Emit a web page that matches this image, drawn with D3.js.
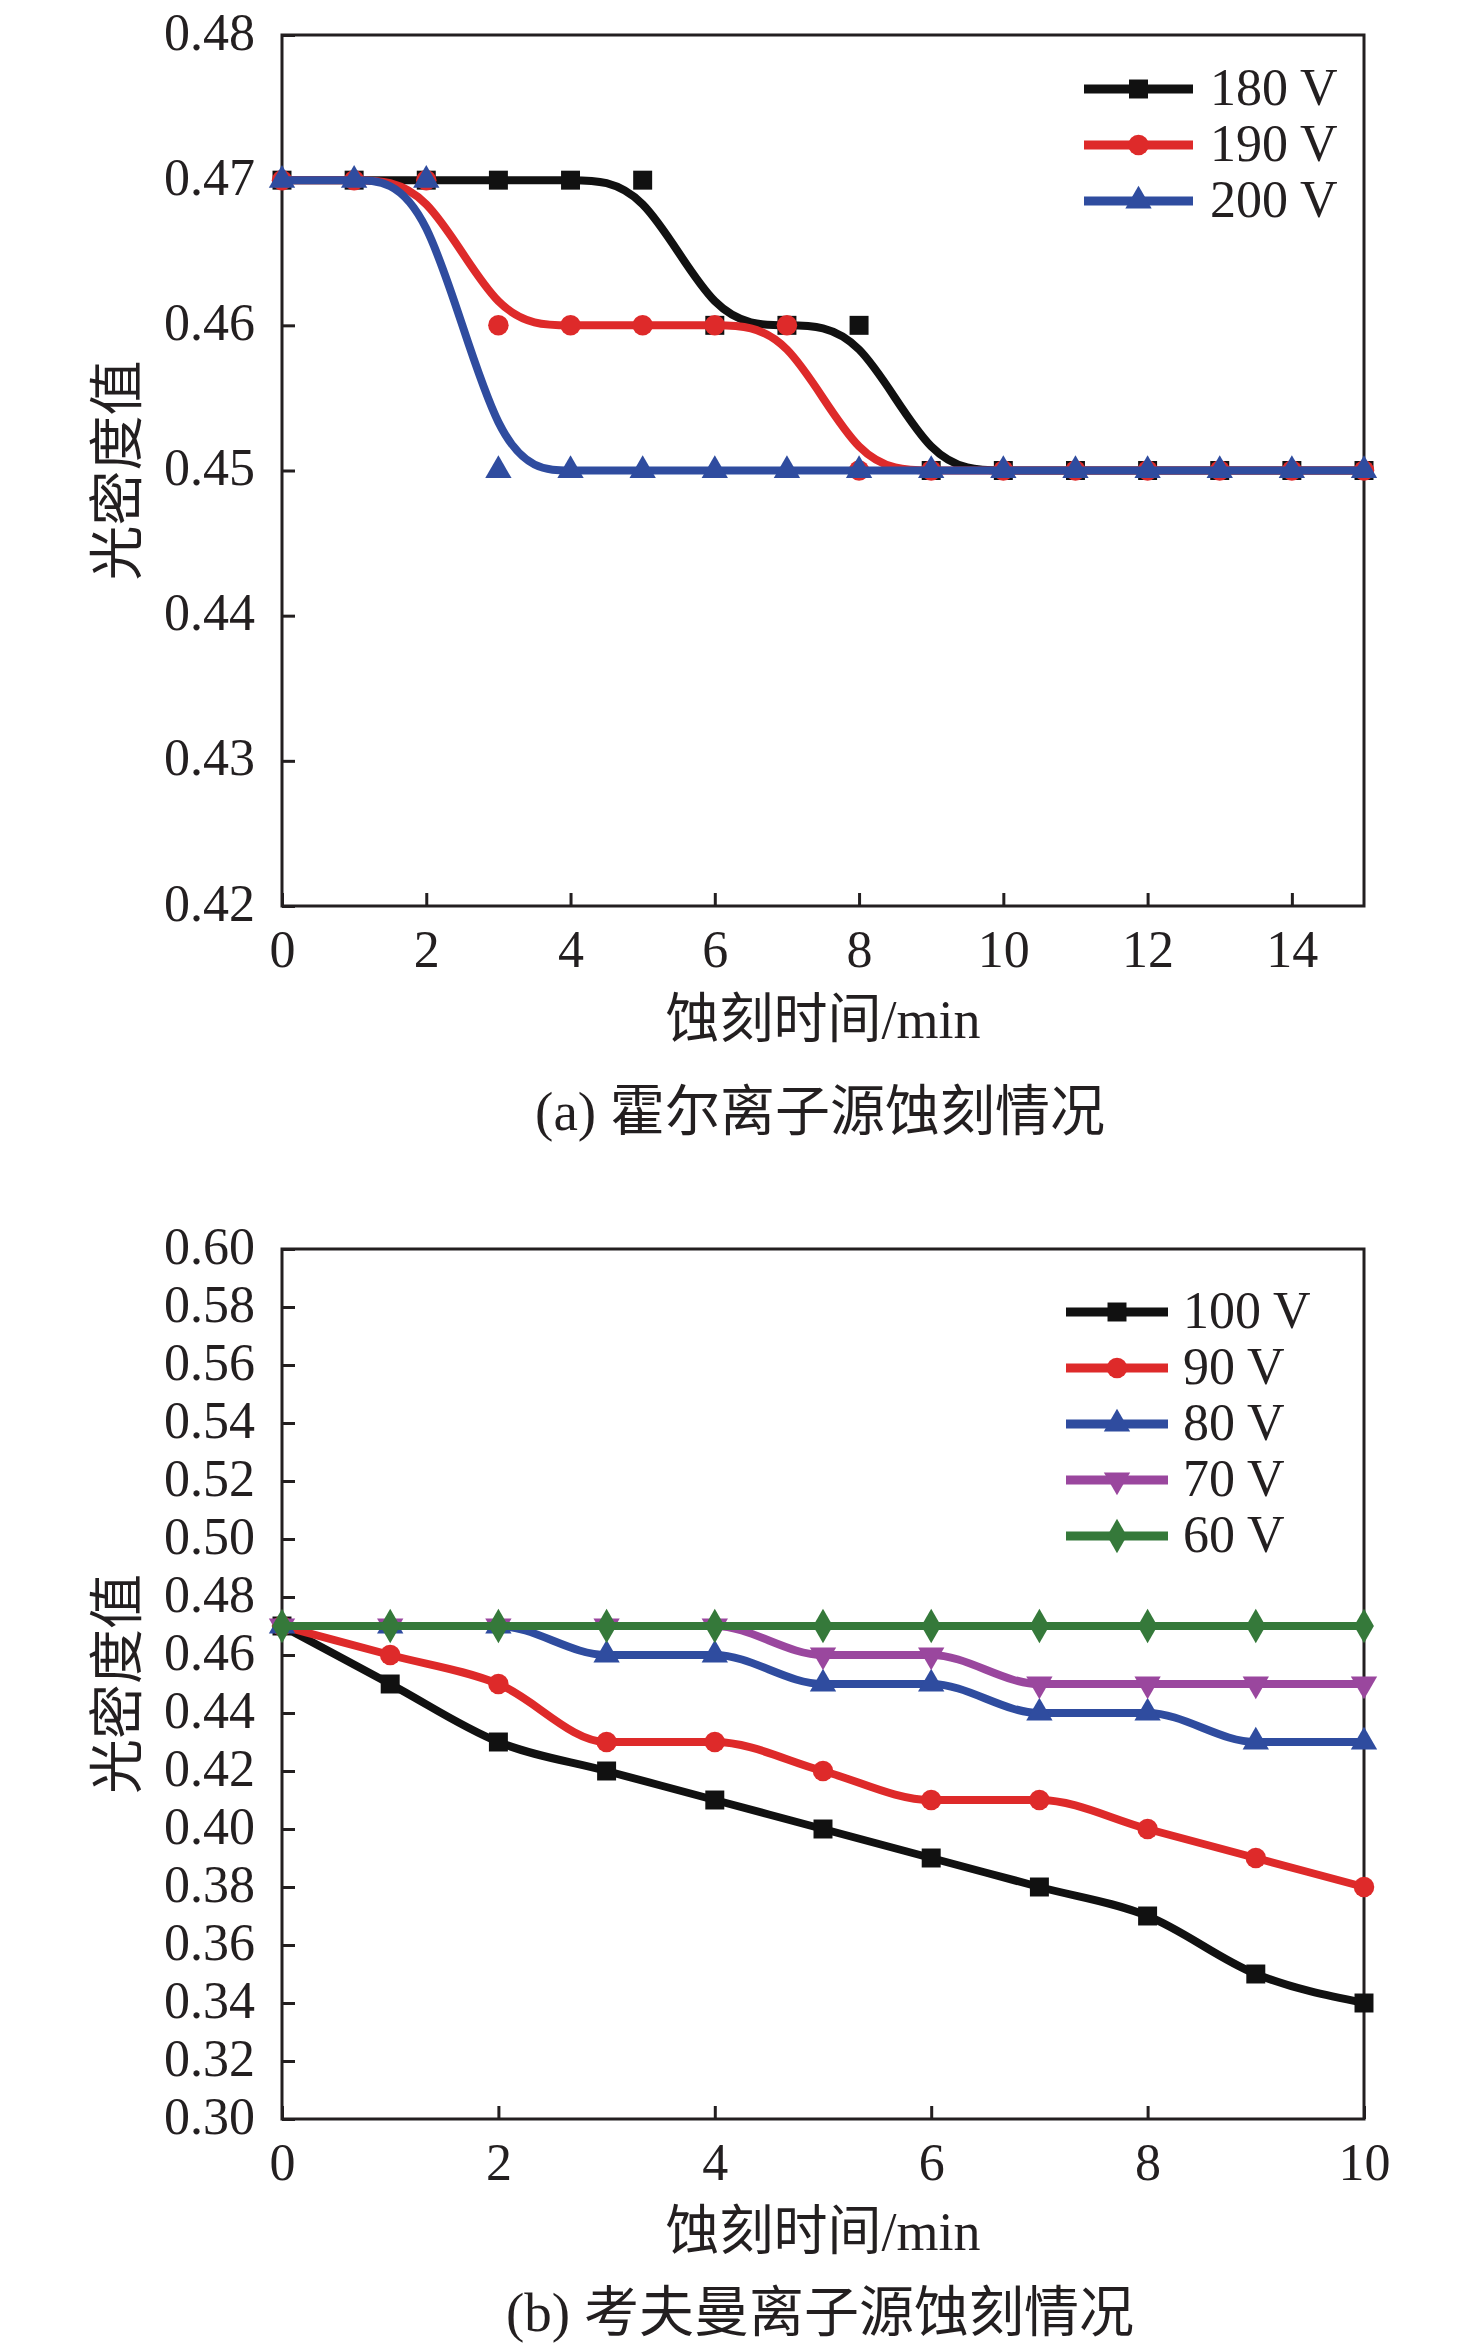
<!DOCTYPE html>
<html>
<head>
<meta charset="utf-8">
<script src="https://cdn.jsdelivr.net/npm/d3@7"></script>
<style>
  body { margin: 0; background: #fff; }
  text { font-family: "Liberation Serif", "Noto Sans CJK SC", serif; fill: #231f20; }
</style>
</head>
<body>
<div id="chart"></div>
<script>
// ---- data: (a) Hall ion source ----
const timeA = [0, 1, 2, 3, 4, 5, 6, 7, 8, 9, 10, 11, 12, 13, 14, 15];
const v180 = [0.47, 0.47, 0.47, 0.47, 0.47, 0.47, 0.46, 0.46, 0.46, 0.45, 0.45, 0.45, 0.45, 0.45, 0.45, 0.45];
const v190 = [0.47, 0.47, 0.47, 0.46, 0.46, 0.46, 0.46, 0.46, 0.45, 0.45, 0.45, 0.45, 0.45, 0.45, 0.45, 0.45];
const v200 = [0.47, 0.47, 0.47, 0.45, 0.45, 0.45, 0.45, 0.45, 0.45, 0.45, 0.45, 0.45, 0.45, 0.45, 0.45, 0.45];
const namesA = ["180 V", "190 V", "200 V"];
const ticksXA = [0, 2, 4, 6, 8, 10, 12, 14];
const ticksYA = [0.42, 0.43, 0.44, 0.45, 0.46, 0.47, 0.48];

// ---- data: (b) Kaufman ion source ----
const timeB = [0, 1, 2, 3, 4, 5, 6, 7, 8, 9, 10];
const v100 = [0.47, 0.45, 0.43, 0.42, 0.41, 0.40, 0.39, 0.38, 0.37, 0.35, 0.34];
const v90 = [0.47, 0.46, 0.45, 0.43, 0.43, 0.42, 0.41, 0.41, 0.40, 0.39, 0.38];
const v80 = [0.47, 0.47, 0.47, 0.46, 0.46, 0.45, 0.45, 0.44, 0.44, 0.43, 0.43];
const v70 = [0.47, 0.47, 0.47, 0.47, 0.47, 0.46, 0.46, 0.45, 0.45, 0.45, 0.45];
const v60 = [0.47, 0.47, 0.47, 0.47, 0.47, 0.47, 0.47, 0.47, 0.47, 0.47, 0.47];
const namesB = ["100 V", "90 V", "80 V", "70 V", "60 V"];
const ticksXB = [0, 2, 4, 6, 8, 10];
const ticksYB = [0.30, 0.32, 0.34, 0.36, 0.38, 0.40, 0.42, 0.44, 0.46, 0.48, 0.50, 0.52, 0.54, 0.56, 0.58, 0.60];

const colors = { black: "#111111", red: "#de2a2a", blue: "#2f4c9f", purple: "#9a479e", green: "#35793a" };

const W = 1476, H = 2350;
const svg = d3.select("#chart").append("svg")
    .attr("width", W).attr("height", H)
    .attr("viewBox", [0, 0, W, H]);

const fmt = d3.format(".2f");

function marker(type) {
    if (type === "square") return d3.symbol(d3.symbolSquare, 360)();
    if (type === "circle") return d3.symbol(d3.symbolCircle, 330)();
    if (type === "tri") return d3.symbol(d3.symbolTriangle, 300)();
    if (type === "triDown") return d3.symbol(d3.symbolTriangle, 300)();
    return d3.symbol(d3.symbolDiamond, 340)();
}
function rot(type) { return type === "triDown" ? " rotate(180)" : ""; }

function panel(opt) {
    const x = d3.scaleLinear().domain(opt.xDomain).range([282, 1364]);
    const y = d3.scaleLinear().domain(opt.yDomain).range(opt.yRange);
    const g = svg.append("g");

    // axes, ticks pointing inward
    const ax = g.append("g")
        .attr("transform", `translate(0,${opt.yRange[0]})`)
        .call(d3.axisBottom(x).tickValues(opt.ticksX).tickSizeInner(-13).tickSizeOuter(0).tickPadding(24));
    const ay = g.append("g")
        .attr("transform", `translate(282,0)`)
        .call(d3.axisLeft(y).tickValues(opt.ticksY).tickFormat(fmt).tickSizeInner(-13).tickSizeOuter(0).tickPadding(27));
    [ax, ay].forEach(a => {
        a.select(".domain").remove();
        a.selectAll("line").attr("stroke", "#231f20").attr("stroke-width", 3);
        a.selectAll("text").attr("font-size", 52).attr("fill", "#231f20");
    });
    ay.selectAll("text").attr("dy", "0.27em");

    // frame
    g.append("rect")
        .attr("x", 282).attr("y", opt.yRange[1])
        .attr("width", 1364 - 282).attr("height", opt.yRange[0] - opt.yRange[1])
        .attr("fill", "none").attr("stroke", "#231f20").attr("stroke-width", 3);

    const line = d3.line().x(d => x(d[0])).y(d => y(d[1])).curve(opt.curve);

    opt.series.forEach(s => {
        const pts = opt.xs.map((t, i) => [t, s.values[i]]);
        g.append("path").datum(pts)
            .attr("d", line)
            .attr("fill", "none")
            .attr("stroke", s.color)
            .attr("stroke-width", 8)
            .attr("stroke-linejoin", "round");
        g.append("g").selectAll("path").data(pts).join("path")
            .attr("d", marker(s.marker))
            .attr("transform", d => `translate(${x(d[0])},${y(d[1])})${rot(s.marker)}`)
            .attr("fill", s.color);
    });

    // legend
    const lg = g.append("g");
    opt.series.forEach((s, i) => {
        const yy = opt.legend.y0 + i * opt.legend.dy;
        lg.append("line")
            .attr("x1", opt.legend.x1).attr("x2", opt.legend.x2)
            .attr("y1", yy).attr("y2", yy)
            .attr("stroke", s.color).attr("stroke-width", 9);
        lg.append("path")
            .attr("d", marker(s.marker))
            .attr("transform", `translate(${(opt.legend.x1 + opt.legend.x2) / 2},${yy})${rot(s.marker)}`)
            .attr("fill", s.color);
        lg.append("text")
            .attr("x", opt.legend.tx).attr("y", yy + 16)
            .attr("font-size", 52)
            .text(s.name);
    });

    // axis titles and caption
    g.append("text")
        .attr("x", 823).attr("y", opt.titleY)
        .attr("text-anchor", "middle").attr("font-size", 54)
        .text("蚀刻时间/min");
    const cy = (opt.yRange[0] + opt.yRange[1]) / 2;
    g.append("text")
        .attr("transform", `translate(136,${cy}) rotate(-90)`)
        .attr("text-anchor", "middle").attr("font-size", 55)
        .text("光密度值");
    g.append("text")
        .attr("x", 820).attr("y", opt.captionY)
        .attr("text-anchor", "middle").attr("font-size", 55)
        .text(opt.caption);
}

panel({
    xDomain: [0, 15], yDomain: [0.42, 0.48], yRange: [906, 35],
    ticksX: ticksXA, ticksY: ticksYA, xs: timeA,
    curve: d3.curveBasis,
    series: [
        { name: namesA[0], values: v180, color: colors.black, marker: "square" },
        { name: namesA[1], values: v190, color: colors.red, marker: "circle" },
        { name: namesA[2], values: v200, color: colors.blue, marker: "tri" }
    ],
    legend: { x1: 1084, x2: 1193, tx: 1210, y0: 89, dy: 56 },
    titleY: 1038, captionY: 1130,
    caption: "(a) 霍尔离子源蚀刻情况"
});

panel({
    xDomain: [0, 10], yDomain: [0.30, 0.60], yRange: [2119, 1249],
    ticksX: ticksXB, ticksY: ticksYB, xs: timeB,
    curve: d3.curveMonotoneX,
    series: [
        { name: namesB[0], values: v100, color: colors.black, marker: "square" },
        { name: namesB[1], values: v90, color: colors.red, marker: "circle" },
        { name: namesB[2], values: v80, color: colors.blue, marker: "tri" },
        { name: namesB[3], values: v70, color: colors.purple, marker: "triDown" },
        { name: namesB[4], values: v60, color: colors.green, marker: "diamond" }
    ],
    legend: { x1: 1066, x2: 1168, tx: 1183, y0: 1312, dy: 56 },
    titleY: 2250, captionY: 2331,
    caption: "(b) 考夫曼离子源蚀刻情况"
});
</script>
</body>
</html>
